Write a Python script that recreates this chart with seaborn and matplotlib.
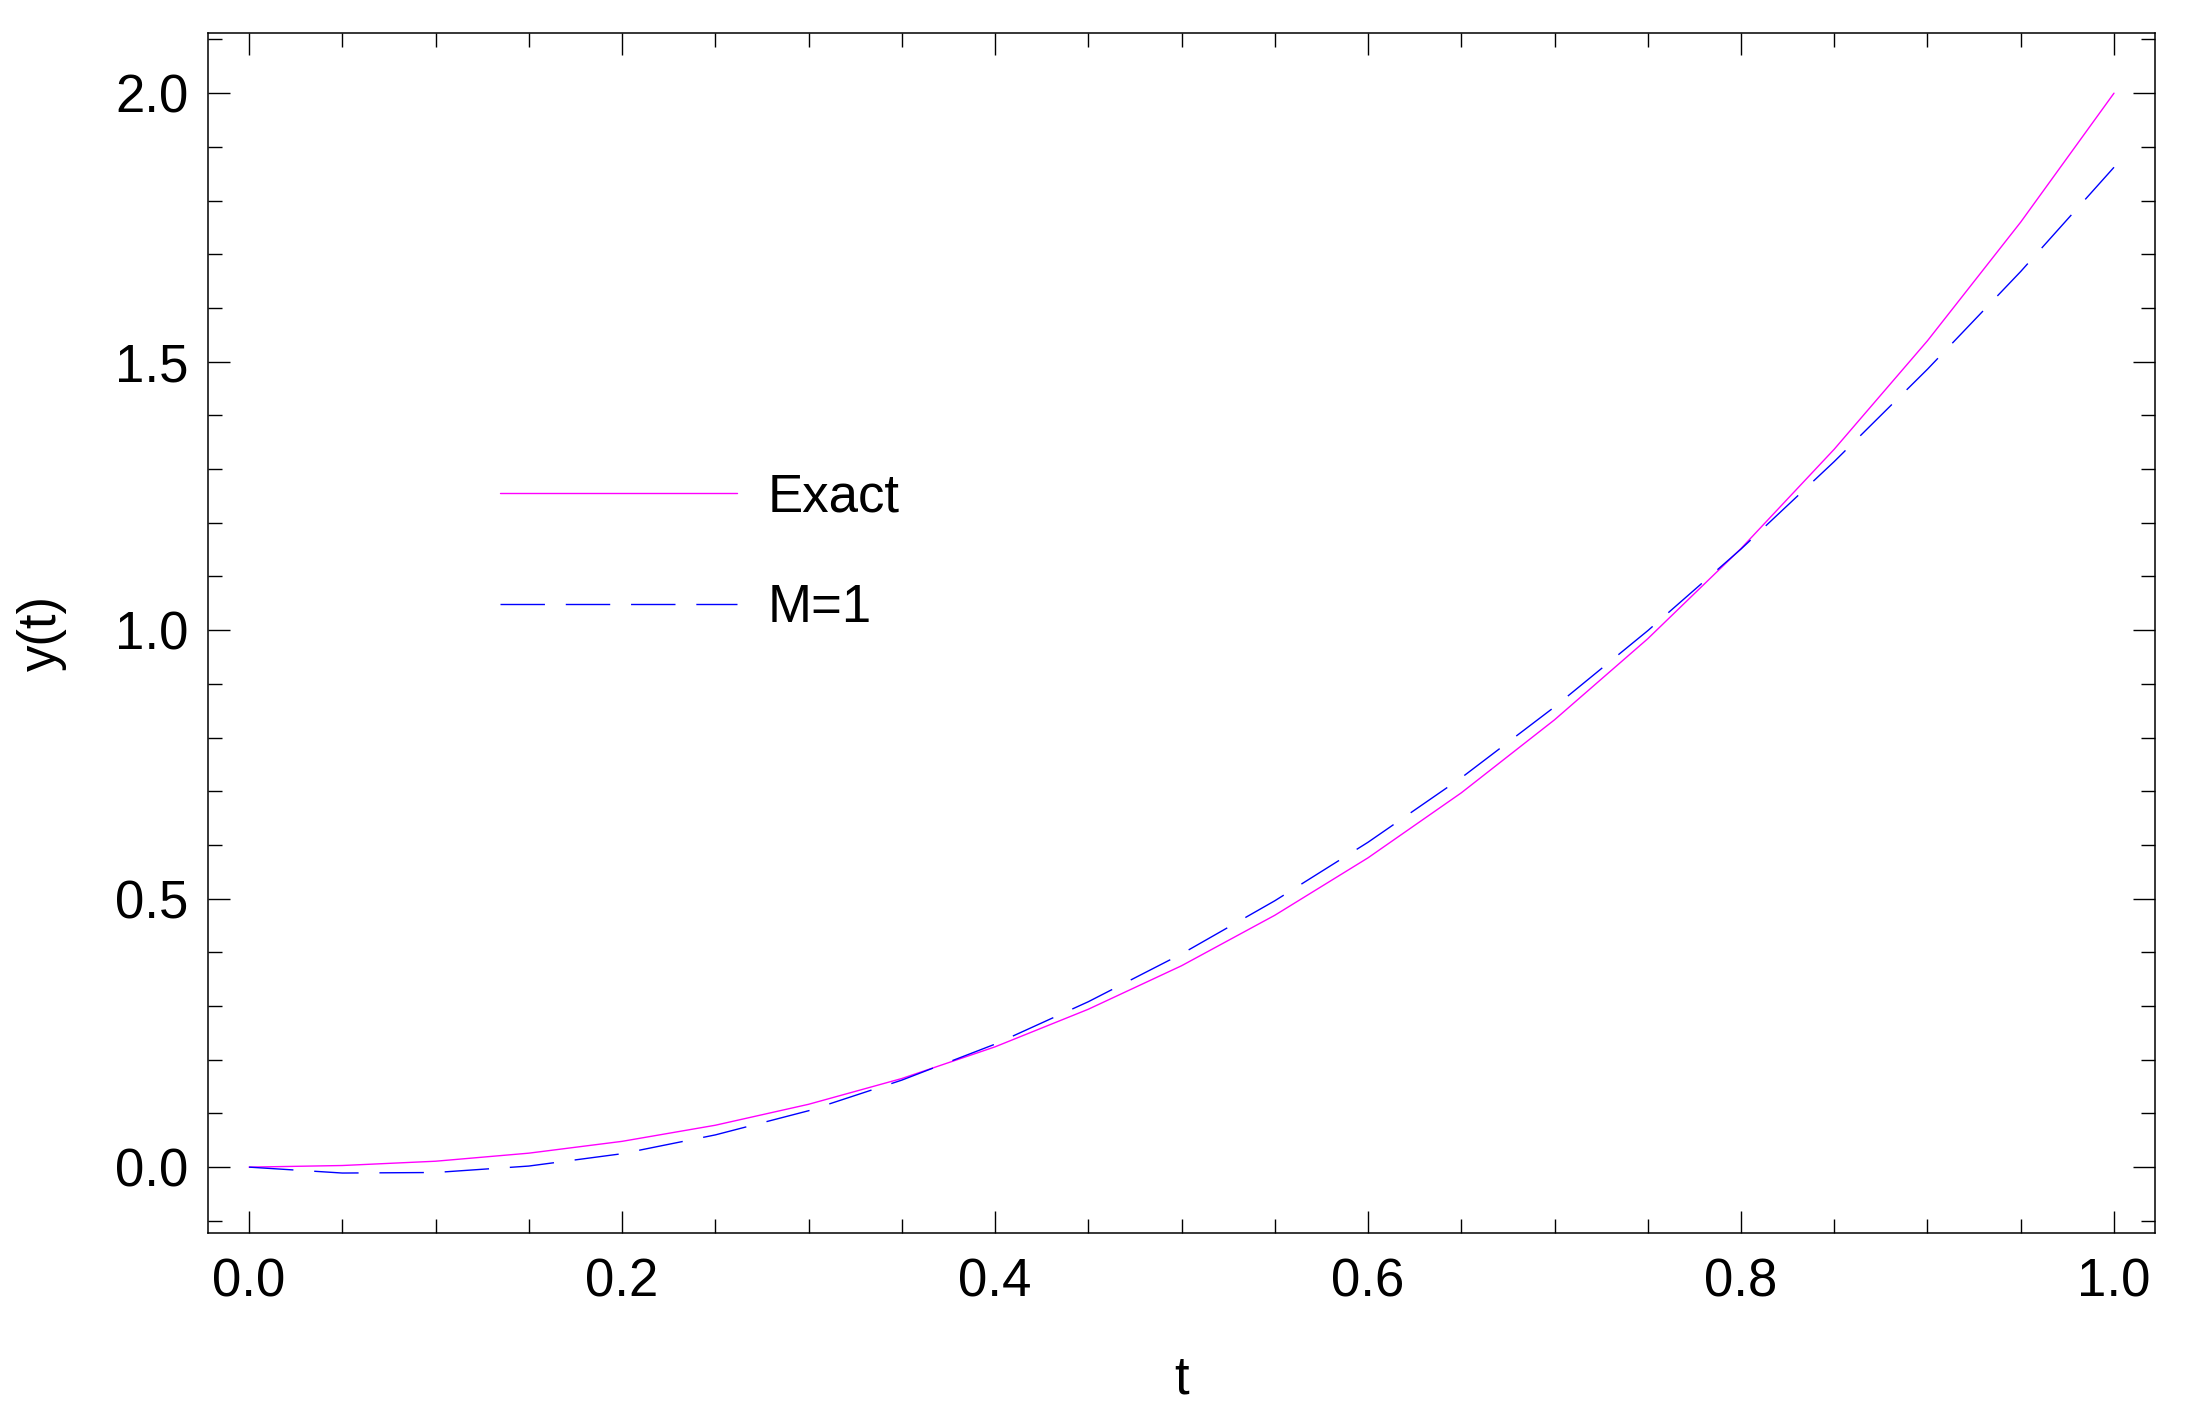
import matplotlib
matplotlib.use("Agg")
import matplotlib.pyplot as plt
from matplotlib.ticker import MultipleLocator
import seaborn as sns

# values
t_vals = [0.00, 0.05, 0.10, 0.15, 0.20, 0.25, 0.30, 0.35, 0.40, 0.45, 0.50,
          0.55, 0.60, 0.65, 0.70, 0.75, 0.80, 0.85, 0.90, 0.95, 1.00]
exact_vals = [0.000, 0.003, 0.011, 0.026, 0.048, 0.078, 0.117, 0.165, 0.224, 0.294, 0.375,
              0.469, 0.576, 0.697, 0.833, 0.984, 1.152, 1.337, 1.539, 1.760, 2.000]
m1_vals = [0.000, -0.011, -0.010, 0.002, 0.025, 0.060, 0.105, 0.162, 0.229, 0.308, 0.397,
           0.496, 0.605, 0.725, 0.857, 0.999, 1.151, 1.314, 1.486, 1.668, 1.862]

sns.set_style("ticks")
plt.rcParams['font.family'] = ['Liberation Sans', 'DejaVu Sans']
plt.rcParams['font.size'] = 38
# plain black text and ticks like the original
for key in ['text.color', 'axes.labelcolor', 'xtick.color', 'ytick.color', 'axes.edgecolor']:
    plt.rcParams[key] = 'black'

fig = plt.figure(figsize=(21.99, 14.06), dpi=100)
ax = fig.add_axes([0.0946, 0.1233, 0.8854, 0.8532])

# exact solution and the M=1 approximation
sns.lineplot(x=t_vals, y=exact_vals, ax=ax, color='#FF00FF', linewidth=1.0, label='Exact')
sns.lineplot(x=t_vals, y=m1_vals, ax=ax, color='#0000FF', linewidth=1.0, label='M=1')
ax.lines[1].set_dashes((32, 15))

ax.set_xlim(-0.022, 1.022)
ax.set_ylim(-0.122, 2.112)

ax.xaxis.set_major_locator(MultipleLocator(0.2))
ax.xaxis.set_minor_locator(MultipleLocator(0.05))
ax.yaxis.set_major_locator(MultipleLocator(0.5))
ax.yaxis.set_minor_locator(MultipleLocator(0.1))
ax.tick_params(which='both', direction='in', top=True, right=True, width=1.0, labelsize=38)
ax.tick_params(which='major', length=16)
ax.tick_params(which='minor', length=10)
ax.tick_params(axis='x', which='major', pad=18)
ax.tick_params(axis='y', which='major', pad=14)

for sp in ax.spines.values():
    sp.set_linewidth(1.1)
    sp.set_color('black')

ax.set_xlabel('t', fontsize=38, labelpad=34)
ax.set_ylabel('y(t)', fontsize=38, labelpad=35)

leg = ax.legend(frameon=False, fontsize=38, handlelength=4.5, handletextpad=0.58,
                labelspacing=1.14, loc='upper left', bbox_to_anchor=(0.139, 0.651),
                borderaxespad=0)

fig.savefig('out.png', dpi=100)
